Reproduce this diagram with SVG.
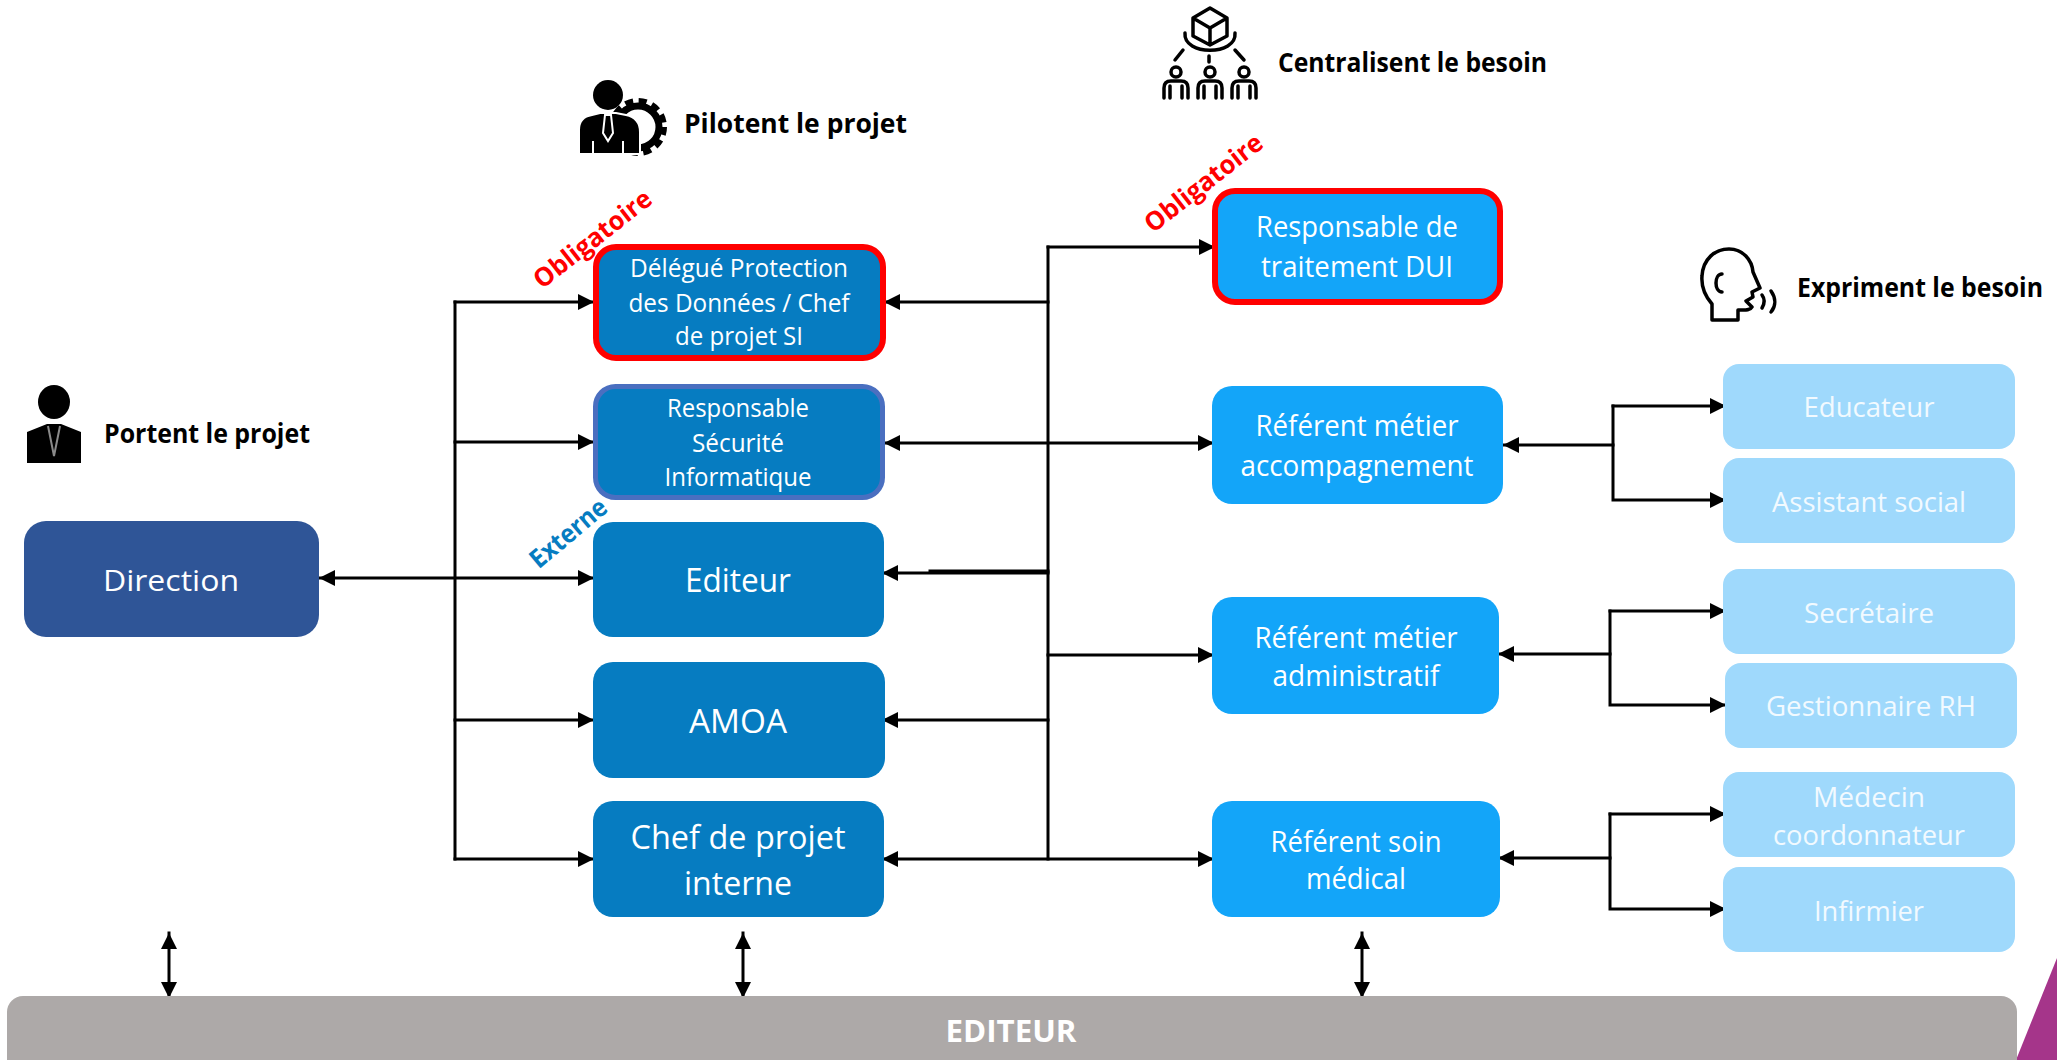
<svg xmlns="http://www.w3.org/2000/svg" width="2057" height="1060" viewBox="0 0 2057 1060">
<style>
text{font-family:"Open Sans","Noto Sans","Liberation Sans",sans-serif;text-anchor:middle;fill:#fff}
.b{font-weight:700}
.h{font-weight:700;fill:#000;text-anchor:start;font-size:26px}
.dark{fill:#067CC1}
.mid{fill:#13A5F9}
.light{fill:#9FD9FC}
.m{font-size:25px}
.l{font-size:30px}
.xl{font-size:33px}
.lt{font-size:27px;fill:#F2FAFF}
.red{stroke:#F00;stroke-width:6}
.con path{fill:none;stroke:#000;stroke-width:3;stroke-linecap:square}
.ar{marker-end:url(#a)}
.ar2{marker-start:url(#a);marker-end:url(#a)}
.ic{fill:none;stroke:#000;stroke-width:3.5;stroke-linejoin:round;stroke-linecap:round}
.tag{font-weight:700;font-size:26px}
</style>
<defs><marker id="a" viewBox="0 0 16 16" markerUnits="userSpaceOnUse" markerWidth="16" markerHeight="16" refX="16" refY="8" orient="auto-start-reverse"><path d="M0 0L16 8L0 16Z" fill="#000"/></marker></defs>
<rect width="2057" height="1060" fill="#fff"/>
<g id="accent"><path d="M2016 1060L2057 958V1060Z" fill="#A5358A"/></g>

<g id="connectors" class="con">
<path d="M455 302V859"/>
<path class="ar" d="M455 302H594"/>
<path class="ar" d="M455 442H594"/>
<path class="ar2" d="M319 578H594"/>
<path class="ar" d="M455 720H594"/>
<path class="ar" d="M455 859H594"/>
<path d="M1048 247V859"/>
<path class="ar" d="M1048 247H1215"/>
<path class="ar" d="M1048 302H884"/>
<path class="ar2" d="M884 443H1214"/>
<path class="ar" d="M1048 573H882"/>
<path d="M930 571H1048"/>
<path class="ar" d="M1048 655H1214"/>
<path class="ar" d="M1048 720H882"/>
<path class="ar2" d="M882 859H1214"/>
<path class="ar" d="M1613 445H1503"/>
<path class="ar" d="M1613 406V500H1726"/>
<path class="ar" d="M1613 406H1726"/>
<path class="ar" d="M1610 654H1498"/>
<path class="ar" d="M1610 611H1726"/>
<path class="ar" d="M1610 611V705H1726"/>
<path class="ar" d="M1610 858H1498"/>
<path class="ar" d="M1610 814H1726"/>
<path class="ar" d="M1610 814V909H1726"/>
<path class="ar2" d="M169 933V998"/>
<path class="ar2" d="M743 933V998"/>
<path class="ar2" d="M1362 933V998"/>
</g>

<g id="direction"><rect x="24" y="521" width="295" height="116" rx="22" fill="#2F5597"/><text class="l" x="171" y="591" textLength="136" lengthAdjust="spacingAndGlyphs">Direction</text></g>
<g id="dpo"><rect class="dark red" x="596" y="247" width="287" height="111" rx="20"/><text class="m" x="739" y="277" textLength="218" lengthAdjust="spacingAndGlyphs">Délégué Protection</text><text class="m" x="739" y="312" textLength="221" lengthAdjust="spacingAndGlyphs">des Données / Chef</text><text class="m" x="739" y="345" textLength="128" lengthAdjust="spacingAndGlyphs">de projet SI</text></g>
<g id="rssi"><rect class="dark" x="595.5" y="386.5" width="287" height="111" rx="20" stroke="#4A6FC0" stroke-width="5"/><text class="m" x="738" y="417" textLength="142" lengthAdjust="spacingAndGlyphs">Responsable</text><text class="m" x="738" y="452" textLength="92" lengthAdjust="spacingAndGlyphs">Sécurité</text><text class="m" x="738" y="486" textLength="147" lengthAdjust="spacingAndGlyphs">Informatique</text></g>
<g id="editeur"><rect class="dark" x="593" y="522" width="291" height="115" rx="20"/><text class="xl" x="738" y="592" textLength="106" lengthAdjust="spacingAndGlyphs">Editeur</text></g>
<g id="amoa"><rect class="dark" x="593" y="662" width="292" height="116" rx="20"/><text class="xl" x="738" y="733" textLength="98" lengthAdjust="spacingAndGlyphs">AMOA</text></g>
<g id="chef"><rect class="dark" x="593" y="801" width="291" height="116" rx="20"/><text class="xl" x="738" y="849" textLength="215" lengthAdjust="spacingAndGlyphs">Chef de projet</text><text class="xl" x="738" y="895" textLength="108" lengthAdjust="spacingAndGlyphs">interne</text></g>

<g id="resp-traitement"><rect class="mid red" x="1215" y="191" width="285" height="111" rx="20"/><text class="l" x="1357" y="237" textLength="202" lengthAdjust="spacingAndGlyphs">Responsable de</text><text class="l" x="1357" y="277" textLength="192" lengthAdjust="spacingAndGlyphs">traitement DUI</text></g>
<g id="ref-accomp"><rect class="mid" x="1212" y="386" width="291" height="118" rx="20"/><text class="l" x="1357" y="436" textLength="203" lengthAdjust="spacingAndGlyphs">Référent métier</text><text class="l" x="1357" y="476" textLength="233" lengthAdjust="spacingAndGlyphs">accompagnement</text></g>
<g id="ref-admin"><rect class="mid" x="1212" y="597" width="287" height="117" rx="20"/><text class="l" x="1356" y="648" textLength="203" lengthAdjust="spacingAndGlyphs">Référent métier</text><text class="l" x="1356" y="686" textLength="167" lengthAdjust="spacingAndGlyphs">administratif</text></g>
<g id="ref-soin"><rect class="mid" x="1212" y="801" width="288" height="116" rx="20"/><text class="l" x="1356" y="852" textLength="171" lengthAdjust="spacingAndGlyphs">Référent soin</text><text class="l" x="1356" y="889" textLength="100" lengthAdjust="spacingAndGlyphs">médical</text></g>

<g id="educateur"><rect class="light" x="1723" y="364" width="292" height="85" rx="16"/><text class="lt" x="1869" y="417" textLength="131" lengthAdjust="spacingAndGlyphs">Educateur</text></g>
<g id="assistant"><rect class="light" x="1723" y="458" width="292" height="85" rx="16"/><text class="lt" x="1869" y="512" textLength="194" lengthAdjust="spacingAndGlyphs">Assistant social</text></g>
<g id="secretaire"><rect class="light" x="1723" y="569" width="292" height="85" rx="16"/><text class="lt" x="1869" y="623" textLength="130" lengthAdjust="spacingAndGlyphs">Secrétaire</text></g>
<g id="gestionnaire"><rect class="light" x="1725" y="663" width="292" height="85" rx="16"/><text class="lt" x="1871" y="716" textLength="210" lengthAdjust="spacingAndGlyphs">Gestionnaire RH</text></g>
<g id="medecin"><rect class="light" x="1723" y="772" width="292" height="85" rx="16"/><text class="lt" x="1869" y="807" textLength="112" lengthAdjust="spacingAndGlyphs">Médecin</text><text class="lt" x="1869" y="845" textLength="192" lengthAdjust="spacingAndGlyphs">coordonnateur</text></g>
<g id="infirmier"><rect class="light" x="1723" y="867" width="292" height="85" rx="16"/><text class="lt" x="1869" y="921" textLength="110" lengthAdjust="spacingAndGlyphs">Infirmier</text></g>
<g id="editeur-bar"><path d="M23 996H2001a16 16 0 0 1 16 16V1060H7V1012a16 16 0 0 1 16-16Z" fill="#ADA9A8"/><text class="b" x="1011" y="1042" font-size="30" textLength="131" lengthAdjust="spacingAndGlyphs">EDITEUR</text></g>

<g id="tags">
<text class="tag" style="fill:#F00" transform="translate(598 246) rotate(-38)" textLength="142" lengthAdjust="spacingAndGlyphs">Obligatoire</text>
<text class="tag" style="fill:#F00" transform="translate(1209 190) rotate(-38)" textLength="142" lengthAdjust="spacingAndGlyphs">Obligatoire</text>
<text class="tag" style="fill:#067CC1" transform="translate(574 540) rotate(-40)" textLength="92" lengthAdjust="spacingAndGlyphs">Externe</text>
</g>

<g id="portent">
<ellipse cx="54" cy="402" rx="16" ry="17" fill="#000"/>
<path d="M27 432L47 424H61L81 432V463H27Z" fill="#000"/>
<path d="M48 426L54 456L60 426" fill="none" stroke="#8a8a8a" stroke-width="2"/>
<text class="h" x="104" y="443" textLength="206" lengthAdjust="spacingAndGlyphs">Portent le projet</text>
</g>
<g id="pilotent">
<circle cx="638" cy="127" r="21" fill="none" stroke="#000" stroke-width="7"/>
<circle cx="638" cy="127" r="26" fill="none" stroke="#000" stroke-width="6" stroke-dasharray="8 5.6"/>
<path d="M579 154V130Q579 117 592 115L600 113H616L626 115Q640 118 640 132V154Z" fill="#000" stroke="#fff" stroke-width="2"/>
<circle cx="608" cy="95" r="15" fill="#000"/>
<path d="M605 115H611L613 133L608 141L603 133Z M593 141V153M623 141V153" fill="none" stroke="#fff" stroke-width="2"/>
<text class="h" x="684" y="133" textLength="223" lengthAdjust="spacingAndGlyphs">Pilotent le projet</text>
</g>
<g id="centralisent">
<g class="ic">
<path d="M1210 8L1227 18V36L1210 45L1193 36V18ZM1193 18L1210 28L1227 18M1210 28V45"/>
<path d="M1185 33C1183 56 1237 56 1235 33"/>
<path d="M1183 50L1175 60M1235 50L1244 60M1209 56V62"/>
<circle cx="1176" cy="72" r="5"/><circle cx="1210" cy="72" r="5"/><circle cx="1244" cy="72" r="5"/>
<path d="M1164 98V88Q1164 81 1171 81H1181Q1188 81 1188 88V98M1170 86V98M1182 86V98"/>
<path d="M1198 98V88Q1198 81 1205 81H1215Q1222 81 1222 88V98M1204 86V98M1216 86V98"/>
<path d="M1232 98V88Q1232 81 1239 81H1249Q1256 81 1256 88V98M1238 86V98M1250 86V98"/>
</g>
<text class="h" x="1278" y="72" textLength="269" lengthAdjust="spacingAndGlyphs">Centralisent le besoin</text>
</g>
<g id="expriment">
<g class="ic">
<path d="M1712 320V304C1705 296 1701 288 1702 276C1703 259 1715 249 1729 249C1743 249 1752 260 1753 272L1760 288L1752 292L1753 297L1746 301L1752 307C1750 311 1744 310 1738 310V320Z"/>
<path d="M1722 274C1714 274 1714 292 1722 292"/>
<path d="M1762 295C1765 299 1765 303 1762 308M1771 291C1776 298 1776 306 1771 312"/>
</g>
<text class="h" x="1797" y="297" textLength="246" lengthAdjust="spacingAndGlyphs">Expriment le besoin</text>
</g>
</svg>
